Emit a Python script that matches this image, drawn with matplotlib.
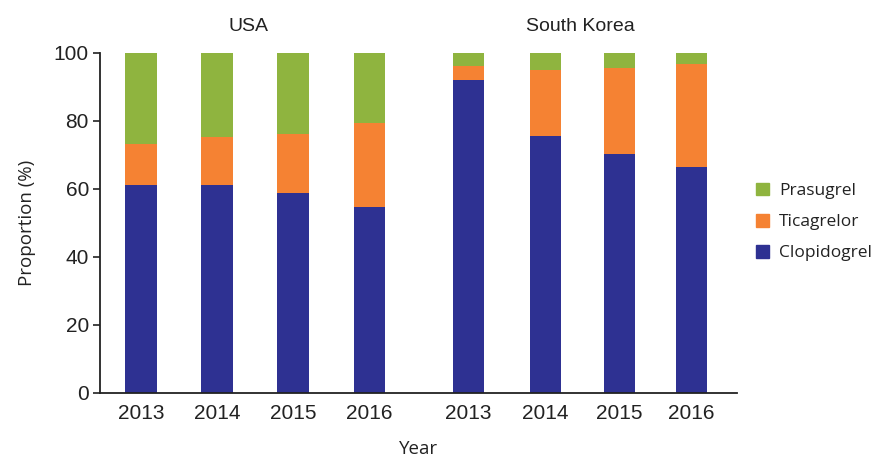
import matplotlib.pyplot as plt
from matplotlib.patches import Patch

years = ['2013', '2014', '2015', '2016', '2013', '2014', '2015', '2016']
countries = ['USA', 'South Korea']
clopidogrel = [61.2, 61.2, 58.8, 54.7, 92.1, 75.6, 70.3, 66.5]
ticagrelor_top = [73.3, 75.3, 76.3, 79.4, 96.3, 95.1, 95.7, 96.9]
ticagrelor = [t - c for t, c in zip(ticagrelor_top, clopidogrel)]
prasugrel = [100 - t for t in ticagrelor_top]

x = [0, 1, 2, 3, 4.31, 5.32, 6.29, 7.24]
green = '#8FB43F'
orange = '#F58233'
blue = '#2E3192'
dark = '#222222'

fig = plt.figure(figsize=(8.74, 4.59), dpi=100)
ax = fig.add_axes([100 / 874, 1 - 393 / 459, 637 / 874, 340 / 459])

w = 0.41
ax.bar(x, clopidogrel, w, color=blue)
ax.bar(x, ticagrelor, w, bottom=clopidogrel, color=orange)
ax.bar(x, prasugrel, w, bottom=ticagrelor_top, color=green)

ax.set_xlim(-0.54, 7.84)
ax.set_ylim(0, 100)
ax.set_yticks([0, 20, 40, 60, 80, 100])
ax.set_xticks(x)
ax.set_xticklabels(years)
ax.tick_params(axis='x', length=0, pad=8, labelsize=15, colors=dark)
ax.tick_params(axis='y', length=5, width=1.2, pad=3, labelsize=15, colors=dark)
for lab in ax.get_xticklabels() + ax.get_yticklabels():
    lab.set_family('Liberation Sans')
for s in ['top', 'right']:
    ax.spines[s].set_visible(False)
for s in ['left', 'bottom']:
    ax.spines[s].set_color(dark)
    ax.spines[s].set_linewidth(1.3)

ax.set_ylabel('Proportion (%)', fontsize=13.5, family='Open Sans', color=dark, labelpad=13)
ax.set_xlabel('Year', fontsize=13.5, family='Open Sans', color=dark, labelpad=12)

ax.text(1.42, 105.3, countries[0], ha='center', va='bottom', fontsize=14,
        family='Liberation Sans', color=dark, clip_on=False)
ax.text(5.78, 105.3, countries[1], ha='center', va='bottom', fontsize=14,
        family='Liberation Sans', color=dark, clip_on=False)

handles = [Patch(color=green, label='Prasugrel'),
           Patch(color=orange, label='Ticagrelor'),
           Patch(color=blue, label='Clopidogrel')]
fig.legend(handles=handles, loc='center left', bbox_to_anchor=(740 / 874, 1 - 222 / 459),
           frameon=False, handlelength=0.75, handleheight=0.75, handletextpad=0.6,
           labelspacing=0.85, prop={'family': 'Open Sans', 'size': 12.5}, labelcolor=dark)

fig.savefig('out.png', dpi=100)
